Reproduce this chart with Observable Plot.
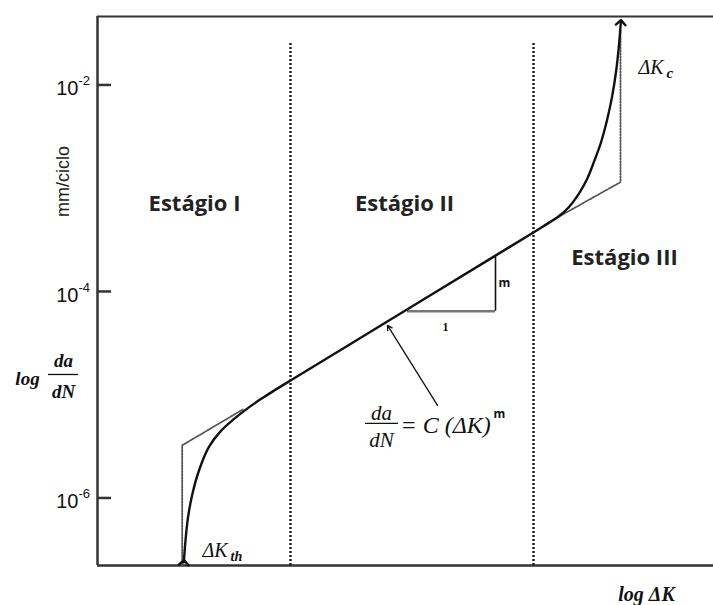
<!DOCTYPE html>
<html>
<head>
<meta charset="utf-8">
<script src="https://cdn.jsdelivr.net/npm/d3@7"></script>
<script src="https://cdn.jsdelivr.net/npm/@observablehq/plot@0.6"></script>
<style>
  html, body { margin: 0; padding: 0; background: #fff; }
  #chart svg { display: block; }
</style>
</head>
<body>
<div id="chart"></div>
<script>
// ---- Data (log ΔK in arbitrary units, log10 of da/dN in mm/ciclo) ----
const curveLogDK   = [0.863, 0.88, 0.905, 0.95, 1.015, 1.113, 1.23, 1.363, 1.497, 1.63, 1.763, 1.93,
                      2.89, 3.98, 4.363, 4.48, 4.613, 4.713, 4.813, 4.897, 4.97, 5.033, 5.098, 5.145, 5.187, 5.216, 5.233];
const curveLogRate = [-6.625, -6.412, -6.189, -5.957, -5.734, -5.508, -5.355, -5.237, -5.135, -5.045, -4.962, -4.862,
                      -4.296, -3.653, -3.426, -3.355, -3.272, -3.184, -3.054, -2.908, -2.731, -2.562, -2.329, -2.118, -1.86, -1.601, -1.395];

const thresholdLogDK   = [0.847, 0.847, 1.46];
const thresholdLogRate = [-6.654, -5.49, -5.139];
const criticalLogDK    = [4.613, 5.23, 5.23];
const criticalLogRate  = [-3.276, -2.941, -1.472];

const stageBoundaries = [1.93, 4.36];
const boundaryTop = -1.598;

const yTickExponents = [-2, -4, -6];
const yTickLabels = ["-2", "-4", "-6"];

const stageNames = ["Estágio I", "Estágio II", "Estágio III"];
const stageX = [0.97, 3.07, 5.27];
const stageY = [-3.157, -3.148, -3.68];

// slope triangle
const triRun  = [3.1, 3.98];
const triLow  = -4.191;
const triHigh = -3.665;

const xDomain = [0, 6.16];
const yDomainExp = [-6.654, -1.337];

// ---- Build tables ----
const curve = curveLogDK.map((x, i) => ({x, y: 10 ** curveLogRate[i]}));
const thr = thresholdLogDK.map((x, i) => ({x, y: 10 ** thresholdLogRate[i]}));
const crit = criticalLogDK.map((x, i) => ({x, y: 10 ** criticalLogRate[i]}));
const ticks = yTickExponents.map((e, i) => ({y: 10 ** e, lab: yTickLabels[i]}));
const stages = stageNames.map((t, i) => ({t, x: stageX[i], y: 10 ** stageY[i]}));

const P = v => 10 ** v;
const ink = "#111";
const axisInk = "#333";
const serif = "Liberation Serif";
const sans = "Open Sans";

const chart = Plot.plot({
  width: 713,
  height: 605,
  marginLeft: 97,
  marginRight: 0,
  marginTop: 16,
  marginBottom: 40,
  x: {domain: xDomain, axis: null},
  y: {type: "log", domain: yDomainExp.map(P)},
  style: {background: "#fff", fontFamily: "Liberation Sans"},
  marks: [
    // frame lines (left, bottom, top)
    Plot.ruleX([xDomain[0]], {stroke: axisInk, strokeWidth: 2.5}),
    Plot.ruleY([P(yDomainExp[0])], {stroke: axisInk, strokeWidth: 2.5}),
    Plot.ruleY([P(yDomainExp[1])], {stroke: axisInk, strokeWidth: 2}),
    // y ticks pointing inward
    Plot.axisY({ticks: ticks.map(d => d.y), tickSize: -14, tickFormat: () => "", label: null, stroke: axisInk, strokeWidth: 2.5}),
    // tick labels 10^n
    Plot.text(ticks, {x: xDomain[0], y: "y", text: () => "10", textAnchor: "end", dx: -19, dy: 4, fontSize: 20, letterSpacing: -1, fill: "#111"}),
    Plot.text(ticks, {x: xDomain[0], y: "y", text: "lab", textAnchor: "start", dx: -19, dy: -4, fontSize: 13, fill: "#111"}),
    // stage boundaries
    Plot.ruleX(stageBoundaries, {y1: P(yDomainExp[0]), y2: P(boundaryTop), stroke: ink, strokeWidth: 2.3, strokeDasharray: "2,2"}),
    // asymptote dotted lines
    Plot.line(thr, {x: "x", y: "y", stroke: "#555", strokeWidth: 1.8, strokeDasharray: "1.5,1.5"}),
    Plot.line(crit, {x: "x", y: "y", stroke: "#555", strokeWidth: 1.8, strokeDasharray: "1.5,1.5"}),
    // slope triangle
    Plot.ruleY([P(triLow)], {x1: triRun[0], x2: triRun[1], stroke: "#777", strokeWidth: 2.5}),
    Plot.ruleX([triRun[1]], {y1: P(triLow), y2: P(triHigh), stroke: ink, strokeWidth: 1.6}),
    Plot.text(["m"], {x: 4.07, y: P(-3.923), fontSize: 12, fontWeight: "bold", fontFamily: sans, fill: ink}),
    Plot.text(["1"], {x: 3.48, y: P(-4.349), fontSize: 12, fontWeight: "bold", fontFamily: serif, fill: ink}),
    // main curve
    Plot.line(curve, {x: "x", y: "y", curve: "catmull-rom", stroke: ink, strokeWidth: 2.4, markerStart: "arrow", markerEnd: "arrow"}),
    // pointer arrow to formula
    Plot.arrow([0], {x1: 3.40, y1: P(-5.104), x2: 2.90, y2: P(-4.329), stroke: ink, strokeWidth: 1.3, headLength: 6}),
    // formula da/dN = C (ΔK)^m
    Plot.text(["da"], {x: 2.84, y: P(-5.18), fontSize: 21, fontStyle: "italic", fontFamily: serif, fill: ink}),
    Plot.ruleY([P(-5.278)], {x1: 2.68, x2: 3.01, stroke: ink, strokeWidth: 1.3}),
    Plot.text(["dN"], {x: 2.84, y: P(-5.443), fontSize: 21, fontStyle: "italic", fontFamily: serif, fill: ink}),
    Plot.text(["= C (ΔK)"], {x: 3.03, y: P(-5.30), textAnchor: "start", fontSize: 24, fontStyle: "italic", fontFamily: serif, fill: ink}),
    Plot.text(["m"], {x: 3.96, y: P(-5.19), textAnchor: "start", fontSize: 12, fontWeight: "bold", fontFamily: sans, fill: ink}),
    // stage labels
    Plot.text(stages, {x: "x", y: "y", text: "t", fontSize: 22, fontWeight: "bold", fontFamily: sans, fill: "#222"}),
    // ΔKc and ΔKth
    Plot.text(["ΔK"], {x: 5.41, y: P(-1.83), textAnchor: "start", fontSize: 20, fontStyle: "italic", fontFamily: serif, fill: ink}),
    Plot.text(["c"], {x: 5.41, y: P(-1.83), textAnchor: "start", dx: 28, dy: 6, fontSize: 15, fontStyle: "italic", fontWeight: "bold", fontFamily: serif, fill: ink}),
    Plot.text(["ΔK"], {x: 1.05, y: P(-6.508), textAnchor: "start", fontSize: 20, fontStyle: "italic", fontFamily: serif, fill: ink}),
    Plot.text(["th"], {x: 1.05, y: P(-6.508), textAnchor: "start", dx: 28, dy: 6, fontSize: 14, fontStyle: "italic", fontWeight: "bold", fontFamily: serif, fill: ink}),
    // y axis title
    Plot.text(["mm/ciclo"], {x: -0.34, y: P(-2.935), rotate: -90, fontSize: 18, fill: "#222"}),
    Plot.text(["log"], {x: -0.70, y: P(-4.843), fontSize: 19, fontStyle: "italic", fontWeight: "bold", fontFamily: serif, fill: ink}),
    Plot.text(["da"], {x: -0.34, y: P(-4.668), fontSize: 19, fontStyle: "italic", fontWeight: "bold", fontFamily: serif, fill: ink}),
    Plot.ruleY([P(-4.804)], {x1: -0.49, x2: -0.19, stroke: ink, strokeWidth: 1.3}),
    Plot.text(["dN"], {x: -0.34, y: P(-4.969), fontSize: 19, fontStyle: "italic", fontWeight: "bold", fontFamily: serif, fill: ink}),
    // x axis title
    Plot.text(["log ΔK"], {x: 5.49, y: P(-6.935), fontSize: 20, fontStyle: "italic", fontWeight: "bold", fontFamily: serif, fill: ink})
  ]
});
document.getElementById("chart").appendChild(chart);
</script>
</body>
</html>
